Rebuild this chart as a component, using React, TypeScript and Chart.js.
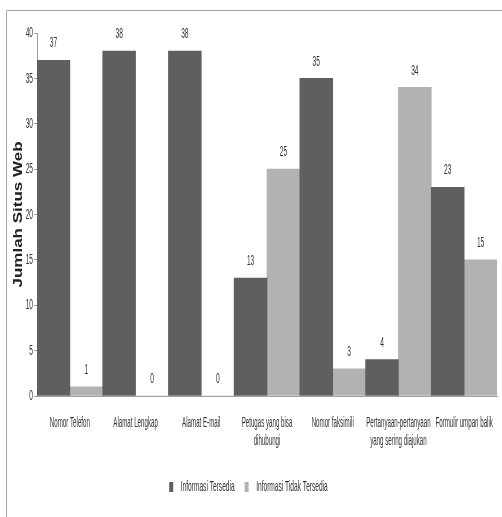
import React, { useEffect, useRef } from 'react';
import { Chart, registerables } from 'chart.js';

Chart.register(...registerables);

const categories: (string | string[])[] = [
  'Nomor Telefon',
  'Alamat Lengkap',
  'Alamat E-mail',
  ['Petugas yang bisa', 'dihubungi'],
  'Nomor faksimili',
  ['Pertanyaan-pertanyaan', 'yang sering diajukan'],
  'Formulir umpan balik',
];
const seriesNames = ['Informasi Tersedia', 'Informasi Tidak Tersedia'];
const tersedia = [37, 38, 38, 13, 35, 4, 23];
const tidakTersedia = [1, 0, 0, 25, 3, 34, 15];
const yMin = 0;
const yMax = 40;
const yStep = 5;
const yTitle = 'Jumlah Situs Web';

const SQUISH = 0.44;
const SQUISH_ROTATED = 0.7;
const FAMILY = "'Liberation Sans', Arial, sans-serif";

function squishContext(ctx: any) {
  if (ctx.__squished) return;
  ctx.__squished = true;
  const origFill = ctx.fillText.bind(ctx);
  const origMeasure = ctx.measureText.bind(ctx);
  ctx.fillText = (text: string, x: number, y: number, maxWidth?: number) => {
    const m: DOMMatrix = ctx.getTransform();
    const rotated = Math.abs(m.b) > 1e-6;
    const s = rotated ? SQUISH_ROTATED : SQUISH;
    const p = m.transformPoint(new DOMPoint(x, y));
    ctx.save();
    const t = new DOMMatrix()
      .translate(p.x, p.y)
      .scale(s, 1)
      .translate(-p.x, -p.y)
      .multiply(m);
    ctx.setTransform(t);
    if (maxWidth !== undefined) origFill(text, x, y, maxWidth / s);
    else origFill(text, x, y);
    ctx.restore();
  };
  ctx.measureText = (text: string) => {
    const r = origMeasure(text);
    return {
      width: r.width * SQUISH,
      actualBoundingBoxAscent: r.actualBoundingBoxAscent,
      actualBoundingBoxDescent: r.actualBoundingBoxDescent,
      actualBoundingBoxLeft: r.actualBoundingBoxLeft * SQUISH,
      actualBoundingBoxRight: r.actualBoundingBoxRight * SQUISH,
      fontBoundingBoxAscent: r.fontBoundingBoxAscent,
      fontBoundingBoxDescent: r.fontBoundingBoxDescent,
    };
  };
}

const framePlugin = {
  id: 'frame',
  beforeDraw(chart: any) {
    const { ctx, width, height } = chart;
    ctx.save();
    ctx.strokeStyle = '#a6a6a6';
    ctx.lineWidth = 1;
    ctx.beginPath();
    ctx.moveTo(6.5, height);
    ctx.lineTo(6.5, 10.5);
    ctx.lineTo(width, 10.5);
    ctx.stroke();
    ctx.restore();
  },
};

const valueLabelPlugin = {
  id: 'valueLabels',
  afterDatasetsDraw(chart: any) {
    const { ctx } = chart;
    ctx.save();
    ctx.font = `15px ${FAMILY}`;
    ctx.fillStyle = '#333333';
    ctx.textAlign = 'center';
    ctx.textBaseline = 'middle';
    chart.data.datasets.forEach((ds: any, i: number) => {
      const meta = chart.getDatasetMeta(i);
      meta.data.forEach((el: any, j: number) => {
        ctx.fillText(String(ds.data[j]), el.x, el.y - 17);
      });
    });
    ctx.restore();
  },
};

export default function App() {
  const ref = useRef<HTMLCanvasElement>(null);
  useEffect(() => {
    const canvas = ref.current;
    if (!canvas) return;
    const ctx = canvas.getContext('2d');
    squishContext(ctx);
    Chart.defaults.font.family = FAMILY;
    const chart = new Chart(canvas, {
      type: 'bar',
      data: {
        labels: categories,
        datasets: [
          {
            label: seriesNames[0],
            data: tersedia,
            backgroundColor: '#5f5f5f',
            borderWidth: 0,
            barPercentage: 1,
            categoryPercentage: 1,
          },
          {
            label: seriesNames[1],
            data: tidakTersedia,
            backgroundColor: '#b2b2b2',
            borderWidth: 0,
            barPercentage: 1,
            categoryPercentage: 1,
          },
        ],
      },
      options: {
        responsive: false,
        animation: false,
        layout: { padding: { left: 0, right: 5, top: 33, bottom: 12.5 } },
        plugins: {
          legend: {
            position: 'bottom',
            labels: {
              boxWidth: 4,
              boxHeight: 10,
              padding: 10,
              color: '#333333',
              font: { size: 15, family: FAMILY },
            },
          },
          tooltip: { enabled: false },
        },
        scales: {
          x: {
            grid: { display: false, drawTicks: false, tickLength: 0 },
            border: { display: true, color: '#a0a0a0' },
            ticks: {
              color: '#333333',
              font: { size: 14, family: FAMILY, lineHeight: 1.3 },
              padding: 18,
              maxRotation: 0,
              minRotation: 0,
              autoSkip: false,
            },
            afterFit: (s: any) => {
              s.height = 73.5;
              s.paddingLeft = 0;
              s.paddingRight = 0;
            },
          },
          y: {
            min: yMin,
            max: yMax,
            ticks: {
              stepSize: yStep,
              color: '#333333',
              padding: 1,
              font: { size: 15, family: FAMILY },
            },
            grid: { drawOnChartArea: false, tickLength: 3, color: '#a0a0a0' },
            border: { display: true, color: '#a0a0a0' },
            title: {
              display: true,
              text: yTitle,
              color: '#222222',
              font: { size: 17, weight: 'bold', family: FAMILY },
              padding: { top: 9, bottom: 0 },
            },
            afterFit: (s: any) => {
              s.width = 37;
            },
          },
        },
      },
      plugins: [framePlugin, valueLabelPlugin],
    } as any);
    return () => chart.destroy();
  }, []);
  return (
    <div style={{ position: 'fixed', left: 0, top: 0, width: 502, height: 517, background: '#fff' }}>
      <canvas ref={ref} width={502} height={517} style={{ display: 'block' }} />
    </div>
  );
}
